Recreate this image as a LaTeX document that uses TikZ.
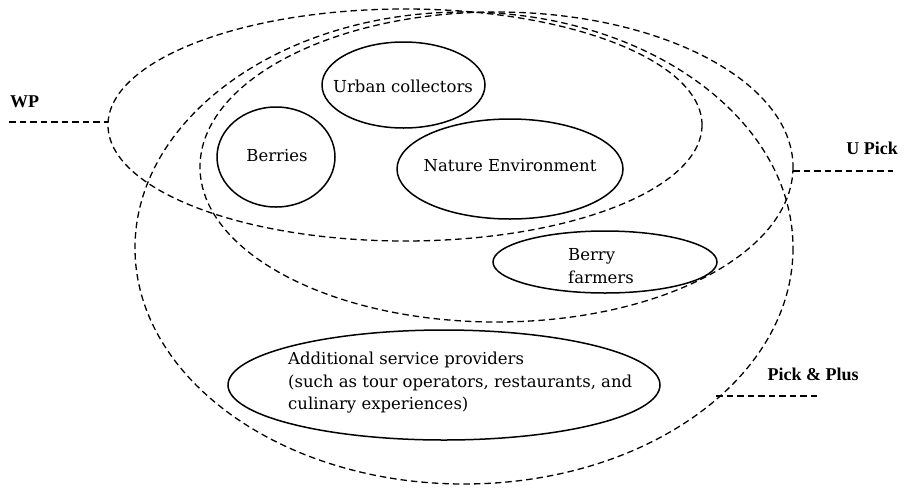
\documentclass[tikz,border=0pt]{standalone}
\usepackage{fontspec}
\setmainfont{DejaVu Serif}
\newfontfamily\tagfont{Liberation Serif}
\usetikzlibrary{shapes.geometric}
\begin{document}
\begin{tikzpicture}[x=1pt,y=-1pt,
  set/.style={draw, line width=1.3pt, dash pattern=on 6.5pt off 4pt},
  leader/.style={line width=1.3pt, dash pattern=on 6.5pt off 4pt},
  member/.style={draw, ellipse, line width=1.5pt, inner sep=0pt},
  body/.style={font=\fontsize{16.5}{22.5}\selectfont, inner sep=0pt},
  tag/.style={font=\tagfont\bfseries\fontsize{18}{20}\selectfont, inner sep=0pt}]
\useasboundingbox (0,0) rectangle (904,488);

% the three overlapping groups
\draw[set] (405,125) ellipse [x radius=297, y radius=116];
\draw[set] (496.5,167) ellipse [x radius=296.5, y radius=155];
\draw[set] (464,248) ellipse [x radius=329, y radius=236];

% group labels with leader lines
\node[tag, anchor=west] (wp) at (10,102) {WP};
\coordinate (wpA) at (9,122);
\coordinate (wpB) at (108,122);
\draw[leader] (wpA) -- (wpB);

\node[tag] (up) at (872,148) {U Pick};
\coordinate (upA) at (793,171);
\coordinate (upB) at (893,171);
\draw[leader] (upA) -- (upB);

\node[tag] (pp) at (813,374) {Pick \& Plus};
\coordinate (ppA) at (716,396);
\coordinate (ppB) at (817,396);
\draw[leader] (ppA) -- (ppB);

% members: outlines
\node[member, minimum width=163pt, minimum height=86pt] (urban) at (403.5,85) {};
\node[member, minimum width=118pt, minimum height=100pt] (berries) at (276,157) {};
\node[member, minimum width=226pt, minimum height=100pt] (nature) at (510,169) {};
\node[member, minimum width=224pt, minimum height=62pt] (farm) at (605,262) {};
\node[member, minimum width=432pt, minimum height=110pt] (extra) at (444,385) {};

% members: texts
\node[body] (urbantxt) at (403,86) {Urban collectors};
\node[body] (berriestxt) at (277,156) {Berries};
\node[body] (naturetxt) at (510,166) {Nature Environment};
\node[body, align=left, anchor=west] (farmtxt) at (568,266) {Berry\\farmers};
\node[body, align=left, anchor=west] (extratxt) at (288,383)
  {Additional service providers\\(such as tour operators, restaurants, and\\culinary experiences)};
\end{tikzpicture}
\end{document}
